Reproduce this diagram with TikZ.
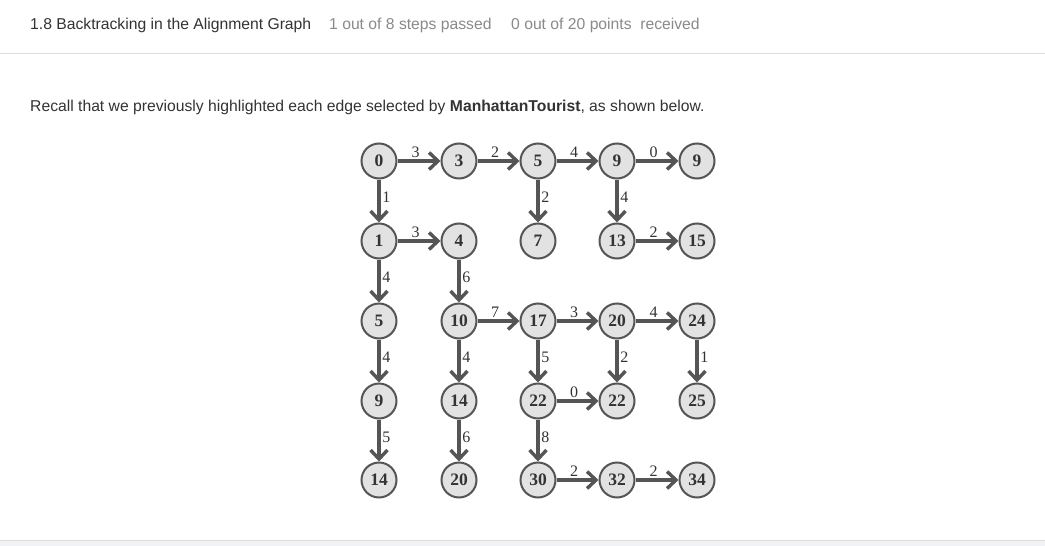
\documentclass[tikz,border=0pt]{standalone}
\usepackage{fontspec}
\newfontfamily\uifont{Liberation Sans}
\newfontfamily\graphfont{Liberation Serif}
\usetikzlibrary{arrows.meta}
\definecolor{edgegray}{HTML}{555555}
\definecolor{nodefill}{HTML}{E2E2E2}
\definecolor{txtdark}{HTML}{333333}
\definecolor{statusgray}{HTML}{8A8A8A}
\definecolor{rulegray}{HTML}{DDDDDD}
\definecolor{footfill}{HTML}{F1F2F5}
\tikzset{
  gnode/.style={circle, draw=edgegray, line width=2pt, fill=nodefill, minimum size=35pt, inner sep=0pt,
    font=\graphfont\fontsize{17.5}{17.5}\selectfont\bfseries, text=txtdark},
  garrow/.style={draw=edgegray, line width=3.6pt, -{Straight Barb[length=9pt,width=17pt,line width=3.4pt]}},
  hlab/.style={above, pos=0.42, inner sep=1.5pt, font=\graphfont\fontsize{16}{16}\selectfont, text=txtdark},
  vlab/.style={right, pos=0.42, inner sep=1.5pt, font=\graphfont\fontsize{16}{16}\selectfont, text=txtdark},
  uitext/.style={anchor=base west, inner sep=0pt, font=\uifont\fontsize{15.7}{15.7}\selectfont}
}
\begin{document}
\begin{tikzpicture}[x=1pt,y=-1pt]
\useasboundingbox (0,0) rectangle (1045,546);
\fill[white] (0,0) rectangle (1045,546);
% header
\node[uitext, text=txtdark] (title) at (30,29.5) {1.8 Backtracking in the Alignment Graph};
\node[uitext, text=statusgray] (steps) at (329,29.5) {1 out of 8 steps passed};
\node[uitext, text=statusgray] (points) at (511,29.5) {0 out of 20 points\ \ received};
\draw[rulegray, line width=1pt] (0,53) -- (1045,53);
\node[uitext, text=txtdark] (recall) at (30,111) {Recall that we previously highlighted each edge selected by \textbf{ManhattanTourist}, as shown below.};
% footer
\fill[footfill] (0,540.5) rectangle (1045,546);
\draw[rulegray, line width=1pt] (0,540.5) -- (1045,540.5);
% nodes
\node[gnode] (n00) at (379,161) {0};
\node[gnode] (n01) at (459,161) {3};
\node[gnode] (n02) at (538,161) {5};
\node[gnode] (n03) at (617,161) {9};
\node[gnode] (n04) at (697,161) {9};
\node[gnode] (n10) at (379,241) {1};
\node[gnode] (n11) at (459,241) {4};
\node[gnode] (n12) at (538,241) {7};
\node[gnode] (n13) at (617,241) {13};
\node[gnode] (n14) at (697,241) {15};
\node[gnode] (n20) at (379,321) {5};
\node[gnode] (n21) at (459,321) {10};
\node[gnode] (n22) at (538,321) {17};
\node[gnode] (n23) at (617,321) {20};
\node[gnode] (n24) at (697,321) {24};
\node[gnode] (n30) at (379,401) {9};
\node[gnode] (n31) at (459,401) {14};
\node[gnode] (n32) at (538,401) {22};
\node[gnode] (n33) at (617,401) {22};
\node[gnode] (n34) at (697,401) {25};
\node[gnode] (n40) at (379,480) {14};
\node[gnode] (n41) at (459,480) {20};
\node[gnode] (n42) at (538,480) {30};
\node[gnode] (n43) at (617,480) {32};
\node[gnode] (n44) at (697,480) {34};
% horizontal edges
\foreach \a/\b/\w in {n00/n01/3, n01/n02/2, n02/n03/4, n03/n04/0,
                      n10/n11/3, n13/n14/2,
                      n21/n22/7, n22/n23/3, n23/n24/4,
                      n32/n33/0,
                      n42/n43/2, n43/n44/2}{
  \draw[garrow] (\a) -- node[hlab] {\w} (\b);
}
% vertical edges
\foreach \a/\b/\w in {n00/n10/1, n02/n12/2, n03/n13/4,
                      n10/n20/4, n11/n21/6,
                      n20/n30/4, n21/n31/4, n22/n32/5, n23/n33/2, n24/n34/1,
                      n30/n40/5, n31/n41/6, n32/n42/8}{
  \draw[garrow] (\a) -- node[vlab] {\w} (\b);
}
\end{tikzpicture}
\end{document}
